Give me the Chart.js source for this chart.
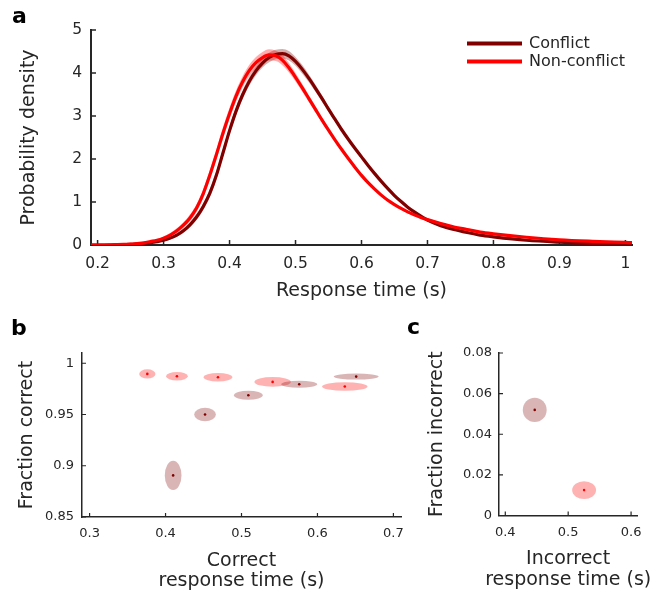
<!DOCTYPE html>
<html>
<head>
<meta charset="utf-8">
<script src="https://cdn.jsdelivr.net/npm/chart.js@4.4.1/dist/chart.umd.min.js"></script>
<style>
  html, body { margin: 0; padding: 0; background: #fff; }
  #wrap { position: relative; width: 651px; height: 595px; overflow: hidden; background: #fff; }
  canvas { position: absolute; }
  .tag { position: absolute; font: bold 22px 'DejaVu Sans'; line-height: 22px; color: #000; }
</style>
</head>
<body>
<div id="wrap">
  <canvas id="chartA" width="651" height="310" style="left:0;top:0"></canvas>
  <canvas id="chartB" width="420" height="295" style="left:0;top:300px"></canvas>
  <canvas id="chartC" width="231" height="295" style="left:420px;top:300px"></canvas>
  <div class="tag" style="left:12px;top:5px">a</div>
  <div class="tag" style="left:11px;top:317px">b</div>
  <div class="tag" style="left:407px;top:316px">c</div>
</div>
<script>
/* ── DATA ─────────────────────────────────────────────── */
// a: RT densities
const rt = [
  0.19, 0.20, 0.21, 0.22, 0.23, 0.24, 0.25, 0.26, 0.27, 0.28,
  0.29, 0.30, 0.31, 0.32, 0.33, 0.34, 0.35, 0.36, 0.37, 0.38,
  0.39, 0.40, 0.41, 0.42, 0.43, 0.44, 0.45, 0.46, 0.47, 0.48,
  0.49, 0.50, 0.51, 0.52, 0.53, 0.54, 0.55, 0.56, 0.57, 0.58,
  0.59, 0.60, 0.61, 0.62, 0.63, 0.64, 0.65, 0.66, 0.67, 0.68,
  0.69, 0.70, 0.72, 0.74, 0.76, 0.78, 0.80, 0.85, 0.90, 0.95,
  1.00, 1.01
];
const densConflict = [
  0, 0, 0, 0, 0.005, 0.01, 0.015, 0.025, 0.035, 0.055,
  0.08, 0.11, 0.16, 0.23, 0.33, 0.47, 0.65, 0.89, 1.2, 1.62,
  2.14, 2.66, 3.12, 3.5, 3.81, 4.05, 4.23, 4.36, 4.43, 4.45,
  4.4, 4.27, 4.09, 3.88, 3.65, 3.41, 3.16, 2.92, 2.68, 2.46,
  2.25, 2.05, 1.85, 1.66, 1.48, 1.31, 1.15, 1.01, 0.88, 0.77,
  0.67, 0.58, 0.45, 0.36, 0.29, 0.23, 0.19, 0.11, 0.065, 0.035,
  0.02, 0.018
];
const errConflict = [
  0.005, 0.005, 0.005, 0.005, 0.005, 0.005, 0.005, 0.008, 0.01, 0.015,
  0.02, 0.025, 0.03, 0.04, 0.05, 0.06, 0.07, 0.08, 0.09, 0.1,
  0.1, 0.1, 0.1, 0.1, 0.1, 0.1, 0.1, 0.11, 0.11, 0.11,
  0.11, 0.1, 0.1, 0.09, 0.08, 0.07, 0.06, 0.05, 0.045, 0.04,
  0.04, 0.04, 0.035, 0.035, 0.03, 0.03, 0.03, 0.03, 0.03, 0.03,
  0.025, 0.025, 0.025, 0.02, 0.02, 0.02, 0.015, 0.01, 0.01, 0.005,
  0.005, 0.005
];
const densNonConflict = [
  0, 0, 0, 0.005, 0.01, 0.015, 0.02, 0.035, 0.05, 0.08,
  0.11, 0.16, 0.23, 0.33, 0.46, 0.63, 0.86, 1.19, 1.62, 2.1,
  2.6, 3.06, 3.47, 3.8, 4.06, 4.24, 4.36, 4.42, 4.4, 4.3,
  4.12, 3.9, 3.66, 3.41, 3.16, 2.91, 2.67, 2.44, 2.22, 2.01,
  1.81, 1.62, 1.45, 1.3, 1.16, 1.04, 0.94, 0.85, 0.77, 0.7,
  0.64, 0.59, 0.5, 0.42, 0.36, 0.3, 0.26, 0.18, 0.12, 0.085,
  0.06, 0.055
];
const errNonConflict = [
  0.005, 0.005, 0.005, 0.005, 0.005, 0.005, 0.005, 0.01, 0.015, 0.02,
  0.03, 0.04, 0.05, 0.06, 0.07, 0.08, 0.09, 0.1, 0.11, 0.12,
  0.13, 0.13, 0.13, 0.13, 0.13, 0.13, 0.13, 0.13, 0.12, 0.12,
  0.11, 0.1, 0.09, 0.08, 0.07, 0.06, 0.05, 0.045, 0.04, 0.04,
  0.04, 0.04, 0.04, 0.035, 0.035, 0.03, 0.03, 0.03, 0.03, 0.03,
  0.03, 0.03, 0.03, 0.025, 0.025, 0.02, 0.02, 0.015, 0.01, 0.01,
  0.01, 0.01
];
const seriesNames = ['Conflict', 'Non-conflict'];
const rtTicks   = [0.2, 0.3, 0.4, 0.5, 0.6, 0.7, 0.8, 0.9, 1];
const densTicks = [0, 1, 2, 3, 4, 5];

// b: correct trials, mean RT vs fraction correct (+ spread)
const corrConflictRt     = [0.410, 0.452, 0.509, 0.576, 0.651];
const corrConflictFrac   = [0.8906, 0.9500, 0.9688, 0.9795, 0.9870];
const corrConflictSdRt   = [0.011, 0.0143, 0.0189, 0.0237, 0.0296];
const corrConflictSdFrac = [0.0143, 0.0066, 0.0044, 0.0034, 0.0029];
const corrNonRt          = [0.376, 0.415, 0.469, 0.541, 0.636];
const corrNonFrac        = [0.9896, 0.9873, 0.9864, 0.9818, 0.9773];
const corrNonSdRt        = [0.0107, 0.0143, 0.019, 0.024, 0.030];
const corrNonSdFrac      = [0.0045, 0.0041, 0.0041, 0.0047, 0.0042];
const corrRtTicks   = [0.3, 0.4, 0.5, 0.6, 0.7];
const corrFracTicks = [0.85, 0.9, 0.95, 1];

// c: incorrect trials
const errConflictRt     = [0.4468];
const errConflictFrac   = [0.052];
const errConflictSdRt   = [0.019];
const errConflictSdFrac = [0.006];
const errNonRt          = [0.5253];
const errNonFrac        = [0.0125];
const errNonSdRt        = [0.019];
const errNonSdFrac      = [0.0044];
const errRtTicks   = [0.4, 0.5, 0.6];
const errFracTicks = [0, 0.02, 0.04, 0.06, 0.08];

/* ── STYLE ────────────────────────────────────────────── */
const DARK = '#800000';
const RED  = '#ff0000';
const INK  = '#262626';

Chart.defaults.font.family = "'DejaVu Sans', sans-serif";
Chart.defaults.color = INK;
Chart.defaults.animation = false;

const pts = (xs, ys) => xs.map((x, i) => ({ x, y: ys[i] }));

/* inward tick marks, MATLAB style */
const inwardTicks = {
  id: 'inwardTicks',
  beforeDatasetsDraw(chart, args, opts) {
    const { ctx, chartArea: a, scales: { x, y } } = chart;
    ctx.save();
    ctx.strokeStyle = INK;
    ctx.lineWidth = opts.width || 1;
    ctx.beginPath();
    x.ticks.forEach(t => {
      const px = x.getPixelForValue(t.value);
      ctx.moveTo(px, a.bottom);
      ctx.lineTo(px, a.bottom - opts.len);
    });
    y.ticks.forEach(t => {
      const py = y.getPixelForValue(t.value);
      ctx.moveTo(a.left, py);
      ctx.lineTo(a.left + opts.len, py);
    });
    ctx.stroke();
    ctx.restore();
  }
};

/* shaded spread ellipses behind the mean points */
const spreadEllipses = {
  id: 'spreadEllipses',
  beforeDatasetsDraw(chart) {
    const { ctx, scales: { x, y } } = chart;
    ctx.save();
    chart.data.datasets.forEach(ds => {
      ctx.fillStyle = ds.spreadColor;
      ds.data.forEach((p, i) => {
        const cx = x.getPixelForValue(p.x);
        const cy = y.getPixelForValue(p.y);
        const rx = Math.abs(x.getPixelForValue(p.x + ds.sdX[i]) - cx);
        const ry = Math.abs(y.getPixelForValue(p.y + ds.sdY[i]) - cy);
        ctx.beginPath();
        ctx.ellipse(cx, cy, rx, ry, 0, 0, Math.PI * 2);
        ctx.fill();
      });
    });
    ctx.restore();
  }
};

/* two-line x title, allowed to run wider than the plot */
const xTitleLines = {
  id: 'xTitleLines',
  afterDraw(chart, args, opts) {
    const { ctx, chartArea: a } = chart;
    ctx.save();
    ctx.font = "19px 'DejaVu Sans'";
    ctx.fillStyle = INK;
    ctx.textAlign = 'center';
    ctx.textBaseline = 'middle';
    const cx = (a.left + a.right) / 2;
    opts.lines.forEach((t, i) => ctx.fillText(t, cx, a.bottom + opts.gap + i * 20.5));
    ctx.restore();
  }
};

/* legend: thick line + label, top right of the plot */
const lineLegend = {
  id: 'lineLegend',
  afterDatasetsDraw(chart, args, opts) {
    const { ctx, chartArea: a } = chart;
    ctx.save();
    ctx.font = "16px 'DejaVu Sans'";
    ctx.textBaseline = 'middle';
    ctx.fillStyle = INK;
    opts.items.forEach((it, i) => {
      const y = a.top + 13.5 + i * 18;
      const x0 = a.right - 165;
      ctx.strokeStyle = it.color;
      ctx.lineWidth = 4;
      ctx.beginPath();
      ctx.moveTo(x0, y);
      ctx.lineTo(x0 + 55, y);
      ctx.stroke();
      ctx.fillText(it.label, x0 + 62, y);
    });
    ctx.restore();
  }
};

function axis(opts) {
  return {
    type: 'linear',
    min: opts.min,
    max: opts.max,
    afterBuildTicks: s => { s.ticks = opts.ticks.map(v => ({ value: v })); },
    afterFit: s => { if (opts.width != null) s.width = opts.width; if (opts.height != null) s.height = opts.height; },
    grid: { display: false, drawTicks: false },
    border: { display: true, color: INK, width: opts.lw },
    ticks: { padding: opts.pad, font: { size: opts.fs }, color: INK, callback: v => String(v), autoSkip: false, maxRotation: 0 },
    title: { display: !!opts.title, text: opts.title || '', color: INK, font: { size: 19 }, padding: opts.tpad }
  };
}

/* ── PANEL A ──────────────────────────────────────────── */
new Chart(document.getElementById('chartA'), {
  type: 'line',
  data: {
    datasets: [
      { data: pts(rt, densNonConflict), borderColor: RED, borderWidth: 3.2, pointRadius: 0, cubicInterpolationMode: 'monotone', order: 0 },
      { data: pts(rt, densConflict), borderColor: DARK, borderWidth: 3.2, pointRadius: 0, cubicInterpolationMode: 'monotone', order: 1 },
      { data: pts(rt, densNonConflict.map((v, i) => v + errNonConflict[i])), borderWidth: 0, pointRadius: 0, cubicInterpolationMode: 'monotone', order: 2 },
      { data: pts(rt, densNonConflict.map((v, i) => Math.max(0, v - errNonConflict[i]))), borderWidth: 0, pointRadius: 0, cubicInterpolationMode: 'monotone', fill: '-1', backgroundColor: 'rgba(255,0,0,0.32)', order: 3 },
      { data: pts(rt, densConflict.map((v, i) => v + errConflict[i])), borderWidth: 0, pointRadius: 0, cubicInterpolationMode: 'monotone', order: 4 },
      { data: pts(rt, densConflict.map((v, i) => Math.max(0, v - errConflict[i]))), borderWidth: 0, pointRadius: 0, cubicInterpolationMode: 'monotone', fill: '-1', backgroundColor: 'rgba(128,0,0,0.32)', order: 5 }
    ]
  },
  options: {
    responsive: false,
    layout: { padding: { left: 0, top: 30, right: 19, bottom: 0 } },
    plugins: {
      legend: { display: false },
      tooltip: { enabled: false },
      inwardTicks: { len: 5, width: 1.5 },
      lineLegend: { items: [{ label: seriesNames[0], color: DARK }, { label: seriesNames[1], color: RED }] }
    },
    scales: {
      x: axis({ min: 0.19, max: 1.01, ticks: rtTicks, height: 65, lw: 2, pad: 10, fs: 15.5, title: 'Response time (s)', tpad: { top: 0, bottom: 8 } }),
      y: axis({ min: 0, max: 5, ticks: densTicks, width: 91, lw: 2, pad: 9, fs: 15.5, title: 'Probability density', tpad: { top: 17.5, bottom: 0 } })
    }
  },
  plugins: [inwardTicks, lineLegend]
});

/* ── PANELS B, C ──────────────────────────────────────── */
function spreadChart(id, cfg) {
  return new Chart(document.getElementById(id), {
    type: 'scatter',
    data: {
      datasets: [
        { data: pts(cfg.nonX, cfg.nonY), sdX: cfg.nonSdX, sdY: cfg.nonSdY, spreadColor: 'rgba(255,0,0,0.3)', pointRadius: 1.3, pointBorderWidth: 0, pointBackgroundColor: RED },
        { data: pts(cfg.conX, cfg.conY), sdX: cfg.conSdX, sdY: cfg.conSdY, spreadColor: 'rgba(128,0,0,0.29)', pointRadius: 1.3, pointBorderWidth: 0, pointBackgroundColor: DARK }
      ]
    },
    options: {
      responsive: false,
      layout: { padding: cfg.padding },
      plugins: {
        legend: { display: false },
        tooltip: { enabled: false },
        inwardTicks: { len: 4, width: 1.2 },
        xTitleLines: { lines: cfg.xTitle, gap: 44 }
      },
      scales: { x: cfg.x, y: cfg.y }
    },
    plugins: [inwardTicks, spreadEllipses, xTitleLines]
  });
}

spreadChart('chartB', {
  nonX: corrNonRt, nonY: corrNonFrac, nonSdX: corrNonSdRt, nonSdY: corrNonSdFrac,
  conX: corrConflictRt, conY: corrConflictFrac, conSdX: corrConflictSdRt, conSdY: corrConflictSdFrac,
  padding: { left: 0, top: 53, right: 19, bottom: 0 },
  xTitle: ['Correct', 'response time (s)'],
  x: axis({ min: 0.29, max: 0.71, ticks: corrRtTicks, height: 78, lw: 1.5, pad: 9, fs: 13 }),
  y: axis({ min: 0.85, max: 1.01, ticks: corrFracTicks, width: 82, lw: 1.5, pad: 8, fs: 13, title: 'Fraction correct', tpad: { top: 15.3, bottom: 0 } })
});

spreadChart('chartC', {
  nonX: errNonRt, nonY: errNonFrac, nonSdX: errNonSdRt, nonSdY: errNonSdFrac,
  conX: errConflictRt, conY: errConflictFrac, conSdX: errConflictSdRt, conSdY: errConflictSdFrac,
  padding: { left: 0, top: 53, right: 13, bottom: 0 },
  xTitle: ['Incorrect', 'response time (s)'],
  x: axis({ min: 0.39, max: 0.61, ticks: errRtTicks, height: 79.5, lw: 1.5, pad: 9, fs: 13 }),
  y: axis({ min: 0, max: 0.08, ticks: errFracTicks, width: 79, lw: 1.5, pad: 7, fs: 13, title: 'Fraction incorrect', tpad: { top: 5.3, bottom: 0 } })
});
</script>
</body>
</html>
